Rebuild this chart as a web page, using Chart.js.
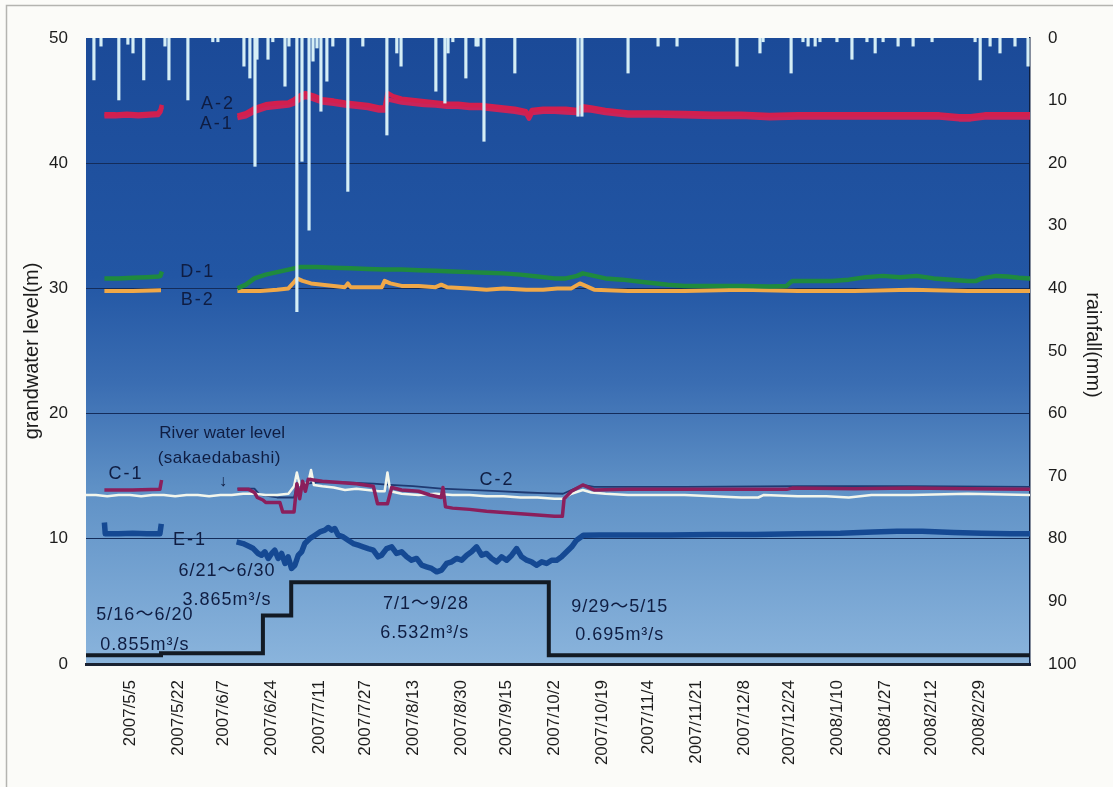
<!DOCTYPE html>
<html>
<head>
<meta charset="utf-8">
<script src="https://cdn.jsdelivr.net/npm/chart.js@4.4.1/dist/chart.umd.min.js"></script>
<style>
  html, body { margin: 0; padding: 0; background: #fbfbf8; }
  #wrap { width: 1113px; height: 787px; position: relative; }
</style>
</head>
<body>
<div id="wrap"><canvas id="chart"></canvas></div>
<script>
// Day numbers are counted from 2007/5/1 (day 0).
const tickDays = [4, 21, 37, 54, 71, 87, 104, 121, 137, 154, 171, 187, 204, 221, 237, 254, 271, 287, 304];
const tickLabels = ['2007/5/5', '2007/5/22', '2007/6/7', '2007/6/24', '2007/7/11', '2007/7/27', '2007/8/13',
  '2007/8/30', '2007/9/15', '2007/10/2', '2007/10/19', '2007/11/4', '2007/11/21', '2007/12/8', '2007/12/24',
  '2008/1/10', '2008/1/27', '2008/2/12', '2008/2/29'];

// daily rainfall (mm)
const rainDays = [-8.7, -6.2, 0.1, 3.3, 5.1, 8.9, 16.4, 17.8, 24.5, 33.3, 35.1, 44.3, 46.4, 48.2, 48.9, 52.8, 54.5,
  58.8, 60.2, 63.0, 64.8, 67.3, 68.7, 70.1, 71.5, 73.6, 75.7, 81.0, 86.3, 94.8, 98.3, 99.8, 112.1, 115.3, 116.4,
  118.1, 122.7, 126.3, 127.0, 129.1, 140.0, 162.3, 163.7, 180.0, 190.6, 197.3, 218.5, 226.6, 227.7, 237.6, 241.8,
  243.6, 246.1, 247.8, 253.8, 259.1, 264.4, 267.3, 270.1, 275.4, 280.7, 287.4, 302.6, 304.4, 307.9, 311.4, 316.7, 321.3];
const rainMm = [6.7, 1.3, 9.9, 1.0, 2.4, 6.7, 1.3, 6.7, 9.9, 0.6, 0.6, 4.5, 6.4, 20.5, 3.4, 3.4, 0.6,
  7.7, 1.3, 43.7, 19.7, 30.7, 3.7, 1.6, 11.7, 6.9, 1.3, 24.5, 1.3, 15.5, 2.4, 4.5, 8.5, 10.4, 2.4,
  0.6, 6.4, 1.3, 1.3, 16.5, 5.6, 12.5, 12.5, 5.6, 1.3, 1.3, 4.5, 2.4, 0.6, 5.6, 0.6,
  1.3, 1.3, 0.6, 0.6, 3.4, 0.6, 2.4, 0.6, 1.3, 1.3, 0.6, 0.6, 6.7, 1.3, 2.4, 1.3, 4.5];

// groundwater levels (m)
const aDays = [-5, -1, 3, 7, 11, 14, 14.8, 15.3, 16,
  42, 45, 48, 52, 56, 60, 62, 64, 66, 69, 72, 76, 80, 84, 88, 92, 94, 95, 97, 100, 104, 108, 112, 116, 120, 124,
  128, 132, 136, 140, 144, 145, 146, 150, 154, 158, 162, 164, 167, 172, 176, 180, 190, 200, 210, 220, 230, 240,
  250, 260, 270, 280, 290, 297, 301, 306, 315, 322];
const a2Level = [43.9, 43.9, 43.95, 43.9, 43.95, 44.0, 44.25, 44.65, null,
  43.8, 44.0, 44.4, 44.7, 44.8, 44.85, 45.1, 45.4, 45.6, 45.4, 45.1, 45.0, 44.85, 44.75, 44.65, 44.45, 44.45, 45.6,
  45.35, 45.15, 45.05, 44.95, 44.85, 44.75, 44.75, 44.65, 44.65, 44.55, 44.45, 44.35, 44.15, 43.75, 44.25, 44.35,
  44.35, 44.35, 44.25, 44.55, 44.45, 44.25, 44.15, 44.05, 44.05, 44.0, 43.95, 43.95, 43.85, 43.9, 43.9, 43.9,
  43.9, 43.9, 43.9, 43.75, 43.75, 43.9, 43.9, 43.9];
const a1Level = [43.75, 43.75, 43.8, 43.75, 43.8, 43.85, 44.1, 44.5, null,
  43.6, 43.75, 44.1, 44.4, 44.5, 44.6, 44.75, 45.1, 45.3, 45.1, 44.85, 44.75, 44.6, 44.5, 44.4, 44.2, 44.2, 45.1,
  45.0, 44.85, 44.75, 44.65, 44.6, 44.5, 44.5, 44.4, 44.4, 44.3, 44.2, 44.1, 43.95, 43.55, 44.0, 44.1,
  44.1, 44.05, 44.0, 44.25, 44.2, 44.0, 43.9, 43.8, 43.8, 43.75, 43.7, 43.7, 43.6, 43.65, 43.65, 43.65,
  43.65, 43.65, 43.65, 43.5, 43.5, 43.65, 43.65, 43.65];

const d1Days = [-5, 0, 5, 10, 14, 14.8, 15.3, 16,
  42, 45, 48, 52, 56, 60, 64, 70, 76, 82, 88, 94, 100, 106, 112, 118, 124, 130, 136, 142, 148, 154, 158, 162, 164,
  168, 172, 178, 186, 194, 200, 210, 220, 230, 236, 238, 244, 252, 258, 264, 270, 276, 282, 288, 294, 300, 303,
  305, 310, 314, 318, 322];
const d1Level = [30.8, 30.8, 30.85, 30.9, 30.95, 31.0, 31.35, null,
  30.0, 30.3, 30.8, 31.1, 31.3, 31.5, 31.7, 31.7, 31.65, 31.6, 31.55, 31.5, 31.5, 31.45, 31.4, 31.35, 31.3, 31.25,
  31.2, 31.1, 30.95, 30.8, 30.8, 31.0, 31.2, 31.0, 30.8, 30.7, 30.5, 30.3, 30.2, 30.2, 30.2, 30.15, 30.2, 30.6,
  30.6, 30.6, 30.7, 30.9, 31.0, 30.9, 31.0, 30.8, 30.7, 30.6, 30.6, 30.8, 31.0, 30.95, 30.85, 30.8];

const b2Days = [-5, 5, 15, 16,
  42, 50, 56, 60, 62, 63, 65, 68, 72, 76, 80, 81, 82, 88, 93, 94, 96, 100, 106, 112, 114, 116, 124, 130, 136, 144,
  150, 155, 160, 163, 165, 168, 180, 200, 220, 240, 260, 280, 300, 322];
const b2Level = [29.8, 29.8, 29.85, null,
  29.8, 29.8, 29.9, 30.0, 30.5, 30.8, 30.6, 30.4, 30.3, 30.2, 30.1, 30.4, 30.1, 30.1, 30.1, 30.6, 30.4, 30.2, 30.2,
  30.1, 30.3, 30.1, 30.0, 29.9, 30.0, 29.9, 29.9, 30.0, 30.0, 30.4, 30.2, 29.9, 29.8, 29.8, 29.9, 29.8, 29.8,
  29.9, 29.8, 29.8];

// river water level at Sakaedabashi (m)
const riverDays = [-11.5, -8, -4, 0, 4, 8, 12, 16, 20, 24, 28, 32, 36, 40, 44, 48, 52, 56, 60, 62,
  63, 64, 66, 67, 68, 69, 72, 76, 80, 84, 88, 92, 94, 95, 96, 100, 106, 112, 118, 124,
  130, 136, 142, 148, 154, 157, 160, 164, 167, 172, 180, 190, 200, 210, 220, 226, 228, 240, 250, 258,
  266, 280, 300, 322];
const riverLevel = [13.5, 13.5, 13.4, 13.5, 13.5, 13.4, 13.5, 13.5, 13.4, 13.5, 13.5, 13.4, 13.5, 13.5, 13.6, 13.6,
  13.5, 13.5, 13.6, 14.2, 15.3, 14.3, 14.4, 14.5, 15.5, 14.3, 14.2, 14.1, 13.9, 14.0, 13.9, 13.8, 13.8, 15.3, 13.8,
  13.6, 13.5, 13.6, 13.5, 13.5, 13.4, 13.4, 13.3, 13.3, 13.2, 13.2, 13.6, 13.9, 13.7, 13.6, 13.5, 13.5, 13.5, 13.4,
  13.3, 13.3, 13.5, 13.4, 13.4, 13.3, 13.5, 13.5, 13.6, 13.5];

const c1Days = [-5, 5, 14.6, 15.2, 16,
  42, 46, 48, 49, 51, 52, 57, 58, 62, 63, 64, 65, 66, 67, 72, 78, 84, 90, 91.5, 95, 96.5, 100, 106, 110, 114, 114.6,
  115.5, 118, 124, 130, 136, 142, 148, 154, 156.8, 157.4, 160, 164, 168, 180, 200, 220, 236, 238, 260, 280, 300, 322];
const c1Level = [13.9, 13.9, 13.95, 14.7, null,
  13.95, 13.95, 13.7, 13.3, 13.1, 12.9, 12.9, 12.15, 12.15, 14.4, 13.2, 14.6, 13.8, 14.75, 14.6, 14.5, 14.4, 14.2,
  12.8, 12.8, 14.1, 13.9, 13.8, 13.5, 13.3, 14.1, 12.55, 12.45, 12.35, 12.2, 12.1, 12.0, 11.9, 11.8, 11.8, 13.2,
  13.8, 14.3, 13.9, 13.95, 13.95, 13.95, 13.95, 14.05, 14.0, 14.05, 14.0, 13.95];

const c2Days = [42, 48, 50, 56, 62, 63, 70, 80, 90, 96, 104, 114, 124, 134, 144, 150, 157, 160, 164, 168, 200, 240, 280, 322];
const c2Level = [14.0, 14.0, 13.5, 13.3, 13.3, 14.3, 14.5, 14.5, 14.4, 14.3, 14.2, 14.0, 13.9, 13.8, 13.7, 13.65, 13.6,
  13.9, 14.3, 14.15, 14.15, 14.2, 14.2, 14.15];

const e1Days = [-5, -4.7, 0, 5, 10, 14.6, 15.1, 16,
  41.7, 44.0, 46.4, 47.6, 49.3, 50.5, 51.7, 52.9, 54.1, 55.2, 56.4, 57.6, 58.8, 59.9, 61.1, 62.3, 63.5, 64.7, 65.8,
  67.6, 69.4, 71.1, 72.9, 74.1, 75.3, 76.4, 77.6, 79.4, 81.1, 82.9, 84.7, 86.4, 88.2, 90.0, 91.7, 92.9, 94.7, 96.5,
  98.2, 100.0, 101.8, 103.5, 105.3, 107.1, 108.8, 110.6, 112.4, 114.1, 115.9, 117.7, 119.4, 121.2, 123.0, 124.7,
  126.5, 128.3, 130.0, 131.8, 133.6, 135.3, 137.1, 138.9, 140.6, 142.4, 144.2, 145.9, 147.7, 149.5, 151.2, 153.0,
  154.8, 156.5, 158.3, 160.1, 161.8, 164.2, 170, 180, 195, 210, 225, 240, 255, 266.5, 275, 284, 295, 305, 315, 322];
const e1Level = [11.3, 10.4, 10.4, 10.45, 10.4, 10.4, 11.2, null,
  9.75, 9.62, 9.36, 9.22, 8.83, 8.69, 8.96, 8.43, 8.83, 9.09, 8.43, 8.83, 8.03, 8.56, 7.63, 7.89, 8.69, 8.96, 9.62,
  10.02, 10.29, 10.55, 10.69, 10.90, 10.69, 10.82, 10.29, 10.15, 9.89, 9.62, 9.49, 9.36, 9.22, 9.09, 8.56, 8.69,
  9.22, 9.36, 8.83, 8.96, 8.56, 8.29, 8.43, 7.89, 7.76, 7.63, 7.36, 7.50, 8.03, 8.16, 8.43, 8.29, 8.69, 8.96,
  9.36, 8.69, 8.83, 8.43, 8.16, 8.56, 8.29, 8.69, 9.22, 8.56, 8.29, 8.16, 7.89, 8.16, 8.03, 8.29,
  8.29, 8.56, 8.96, 9.36, 9.89, 10.29, 10.3, 10.3, 10.3, 10.35, 10.35, 10.4, 10.45, 10.55, 10.6, 10.6, 10.5, 10.45,
  10.4, 10.4];

// released discharge (m3/s), each value holds from its day onward
const flowDays = [-11.5, 15, 51, 61, 152, 322];
const flowRate = [0.695, 0.855, 3.865, 6.532, 0.695, 0.695];

const toPoints = (days, vals) => days.map((d, i) => ({ x: d, y: vals[i] }));

const FONT = '"Liberation Sans", Arial, "Noto Sans CJK JP", sans-serif';
const INK = '#0f1d42';

// text placed in the plot, positioned in axis units (day, level)
const notes = [
  { text: 'A-2', day: 35.1, level: 44.7, size: 18, gap: 2 },
  { text: 'A-1', day: 34.7, level: 43.1, size: 18, gap: 2 },
  { text: 'D-1', day: 28.0, level: 31.3, size: 18, gap: 2 },
  { text: 'B-2', day: 28.0, level: 29.05, size: 18, gap: 2 },
  { text: 'River water level', day: 36.6, level: 18.4, size: 17, gap: 0 },
  { text: '(sakaedabashi)', day: 35.6, level: 16.45, size: 17, gap: 0.5 },
  { text: '↓', day: 36.9, level: 14.6, size: 16, gap: 0 },
  { text: 'C-1', day: 2.6, level: 15.2, size: 18, gap: 2 },
  { text: 'C-2', day: 133.7, level: 14.7, size: 18, gap: 2 },
  { text: 'E-1', day: 25.2, level: 9.9, size: 18, gap: 2 },
  { text: '6/21～6/30', day: 38.3, level: 7.43, size: 18, gap: 1 },
  { text: '3.865m³/s', day: 38.3, level: 5.11, size: 18, gap: 1 },
  { text: '5/16～6/20', day: 9.3, level: 3.91, size: 18, gap: 1 },
  { text: '0.855m³/s', day: 9.3, level: 1.52, size: 18, gap: 1 },
  { text: '7/1～9/28', day: 108.6, level: 4.79, size: 18, gap: 1 },
  { text: '6.532m³/s', day: 108.2, level: 2.48, size: 18, gap: 1 },
  { text: '9/29～5/15', day: 177.1, level: 4.55, size: 18, gap: 1 },
  { text: '0.695m³/s', day: 177.1, level: 2.32, size: 18, gap: 1 }
];

const decor = {
  id: 'decor',
  beforeDraw(chart) {
    const { ctx, chartArea: a } = chart;
    ctx.save();
    ctx.fillStyle = '#fbfbf8';
    ctx.fillRect(0, 0, chart.width, chart.height);
    ctx.strokeStyle = '#b4b4b0';
    ctx.lineWidth = 1.5;
    ctx.strokeRect(6.5, 5.5, chart.width + 20, chart.height + 20);
    const g = ctx.createLinearGradient(0, a.top, 0, a.bottom);
    g.addColorStop(0, '#1b4a98');
    g.addColorStop(0.38, '#2256a4');
    g.addColorStop(0.55, '#3a6db2');
    g.addColorStop(0.72, '#5f91c6');
    g.addColorStop(1, '#8ab4dc');
    ctx.fillStyle = g;
    ctx.fillRect(a.left, a.top, a.right - a.left, a.bottom - a.top);
    ctx.restore();
  },
  afterDatasetsDraw(chart) {
    const { ctx, scales } = chart;
    ctx.save();
    ctx.fillStyle = INK;
    ctx.textAlign = 'center';
    ctx.textBaseline = 'middle';
    notes.forEach(n => {
      ctx.font = n.size + 'px ' + FONT;
      ctx.letterSpacing = n.gap + 'px';
      ctx.fillText(n.text, scales.x.getPixelForValue(n.day), scales.y.getPixelForValue(n.level));
    });
    ctx.letterSpacing = '0px';
    ctx.restore();
  },
  afterDraw(chart) {
    const { ctx, chartArea: a } = chart;
    const mid = (a.top + a.bottom) / 2;
    ctx.save();
    ctx.fillStyle = '#1c1c1c';
    ctx.font = '20px ' + FONT;
    ctx.textAlign = 'center';
    ctx.textBaseline = 'middle';
    ctx.translate(32, mid);
    ctx.rotate(-Math.PI / 2);
    ctx.fillText('grandwater level(m)', 0, 0);
    ctx.restore();
    ctx.save();
    ctx.fillStyle = '#1c1c1c';
    ctx.font = '20px ' + FONT;
    ctx.textAlign = 'center';
    ctx.textBaseline = 'middle';
    ctx.translate(1093, mid - 6);
    ctx.rotate(Math.PI / 2);
    ctx.fillText('rainfall(mm)', 0, 0);
    ctx.restore();
  }
};

const lineStyle = (label, data, color, width, order) => ({
  type: 'line', label, data, borderColor: color, borderWidth: width, pointRadius: 0,
  tension: 0, spanGaps: false, fill: false, order, yAxisID: 'y', borderJoinStyle: 'round'
});

new Chart(document.getElementById('chart'), {
  data: {
    datasets: [
      {
        type: 'bar', label: 'rainfall', data: toPoints(rainDays, rainMm), yAxisID: 'y2',
        backgroundColor: '#d5eef6', barThickness: 2.5, grouped: false, order: 0
      },
      lineStyle('A-2', toPoints(aDays, a2Level), '#d21f4e', 4.5, 2),
      lineStyle('A-1', toPoints(aDays, a1Level), '#c9245a', 4.5, 3),
      lineStyle('D-1', toPoints(d1Days, d1Level), '#1f8a3e', 4.5, 4),
      lineStyle('B-2', toPoints(b2Days, b2Level), '#f0a848', 4, 5),
      lineStyle('C-2', toPoints(c2Days, c2Level), '#1e3a72', 1.8, 7),
      lineStyle('River water level', toPoints(riverDays, riverLevel), '#f3f6ec', 2.5, 6),
      lineStyle('C-1', toPoints(c1Days, c1Level), '#8a1f5c', 3.5, 5),
      lineStyle('E-1', toPoints(e1Days, e1Level), '#154993', 5.5, 8),
      Object.assign(lineStyle('discharge', toPoints(flowDays, flowRate), '#121a24', 4, 9),
        { stepped: 'before', borderJoinStyle: 'miter' })
    ]
  },
  options: {
    responsive: true,
    maintainAspectRatio: false,
    animation: false,
    layout: { padding: { top: 38, left: 0, right: 0, bottom: 0 } },
    plugins: { legend: { display: false }, tooltip: { enabled: false } },
    scales: {
      x: {
        type: 'linear', min: -11.5, max: 322, offset: false,
        afterBuildTicks: s => { s.ticks = tickDays.map(v => ({ value: v })); },
        afterFit: s => { s.height = 123; },
        grid: { display: false, drawTicks: false, offset: false },
        border: { display: true, color: '#1a2232', width: 3 },
        ticks: {
          autoSkip: false, minRotation: 90, maxRotation: 90, padding: 16, color: '#1c1c1c',
          font: { family: FONT, size: 17 },
          callback: v => tickLabels[tickDays.indexOf(v)]
        }
      },
      y: {
        position: 'left', min: 0, max: 50,
        afterFit: s => { s.width = 86; },
        grid: {
          drawTicks: false, lineWidth: 1,
          color: c => (c.tick && (c.tick.value === 0 || c.tick.value === 50)) ? 'rgba(0,0,0,0)' : '#142c5a'
        },
        border: { display: false },
        ticks: { stepSize: 10, padding: 18, color: '#1c1c1c', font: { family: FONT, size: 17 } }
      },
      y2: {
        position: 'right', min: 0, max: 100, reverse: true,
        afterFit: s => { s.width = 83; },
        grid: { display: false, drawTicks: false },
        border: { display: true, color: '#0e1f40', width: 1.5 },
        ticks: { stepSize: 10, padding: 18, color: '#1c1c1c', font: { family: FONT, size: 17 } }
      }
    }
  },
  plugins: [decor]
});
</script>
</body>
</html>
